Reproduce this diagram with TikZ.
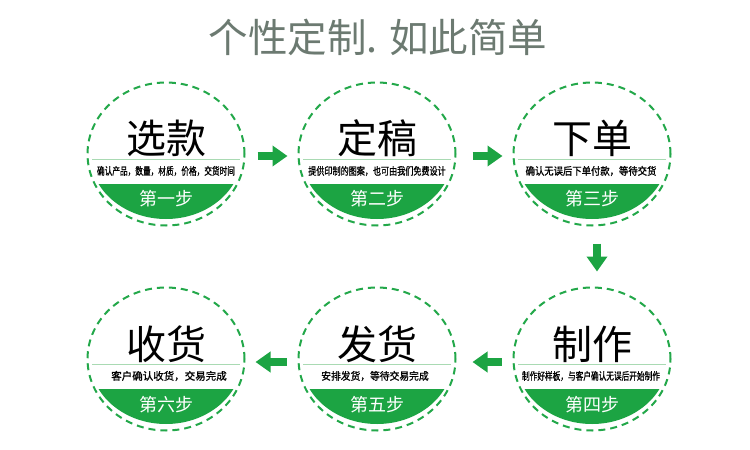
\documentclass[tikz,border=0pt]{standalone}
\usepackage{fontspec}
\usepackage{graphicx}
\newfontfamily\cjk{Noto Sans CJK SC}
\newfontfamily\cjkdark[FakeBold=1.2]{Noto Sans CJK SC}
\usetikzlibrary{shapes.geometric,arrows.meta}

\definecolor{stepgreen}{HTML}{1CA443}
\definecolor{ringgreen}{HTML}{23A84A}
\definecolor{linegreen}{HTML}{A9DAB3}
\definecolor{headgray}{HTML}{6C7A71}

\newcommand{\narrow}[2]{\scalebox{#1}[1]{#2}}

\begin{document}
\begin{tikzpicture}[x=1pt, y=-1pt,
    ring/.style={draw=ringgreen, line width=2pt, dash pattern=on 7pt off 5pt,
        ellipse, minimum width=157pt, minimum height=143pt, inner sep=0pt},
    bigtitle/.style={font=\cjk\fontsize{40}{40}\selectfont, text=black},
    subtitle/.style={font=\cjkdark\fontsize{10.5}{11}\selectfont, text=black},
    steplabel/.style={font=\cjk\fontsize{18}{18}\selectfont, text=white},
    splitline/.style={draw=linegreen, line width=0.8pt},
    flowarrow/.style={line width=8pt, stepgreen, -{Triangle[width=20pt,length=15pt]}}]

\useasboundingbox (0,0) rectangle (750,450);

    % Judul
    \node[font=\cjk\fontsize{39.5}{40}\selectfont, text=headgray] (head) at (378,37) {个性定制. 如此简单};

    % Segmen hijau bawah tiap lingkaran
    \begin{scope}
        \clip (80,184) rectangle (252,240);
        \fill[stepgreen] (166,154) ellipse [x radius=76pt, y radius=65pt];
    \end{scope}
    \begin{scope}
        \clip (291,184) rectangle (463,240);
        \fill[stepgreen] (377,154) ellipse [x radius=76pt, y radius=65pt];
    \end{scope}
    \begin{scope}
        \clip (506,184) rectangle (678,240);
        \fill[stepgreen] (592,154) ellipse [x radius=76pt, y radius=65pt];
    \end{scope}
    \begin{scope}
        \clip (506,389) rectangle (678,445);
        \fill[stepgreen] (592,359) ellipse [x radius=76pt, y radius=65pt];
    \end{scope}
    \begin{scope}
        \clip (291,389) rectangle (463,445);
        \fill[stepgreen] (377,359) ellipse [x radius=76pt, y radius=65pt];
    \end{scope}
    \begin{scope}
        \clip (80,389) rectangle (252,445);
        \fill[stepgreen] (166,359) ellipse [x radius=76pt, y radius=65pt];
    \end{scope}

    % Lingkaran putus-putus
    \node[ring] (s1) at (166,154) {};
    \node[ring] (s2) at (377,154) {};
    \node[ring] (s3) at (592,154) {};
    \node[ring] (s4) at (592,359) {};
    \node[ring] (s5) at (377,359) {};
    \node[ring] (s6) at (166,359) {};

    % Garis pemisah
    \draw[splitline] (92,159) -- (240,159);
    \draw[splitline] (303,159) -- (451,159);
    \draw[splitline] (518,159) -- (666,159);
    \draw[splitline] (518,364) -- (666,364);
    \draw[splitline] (303,364) -- (451,364);
    \draw[splitline] (92,364) -- (240,364);

    % Langkah 1
    \node[bigtitle] (t1) at (166,138) {选款};
    \node[subtitle] (d1) at (166,171) {\narrow{0.73}{确认产品，数量，材质，价格，交货时间}};
    \node[steplabel] (l1) at (166,199) {第一步};

    % Langkah 2
    \node[bigtitle] (t2) at (377,138) {定稿};
    \node[subtitle] (d2) at (377,171) {\narrow{0.77}{提供印制的图案，也可由我们免费设计}};
    \node[steplabel] (l2) at (377,199) {第二步};

    % Langkah 3
    \node[bigtitle] (t3) at (592,138) {下单};
    \node[subtitle] (d3) at (591,171) {\narrow{0.89}{确认无误后下单付款，等待交货}};
    \node[steplabel] (l3) at (592,199) {第三步};

    % Langkah 4
    \node[bigtitle] (t4) at (592,344) {制作};
    \node[subtitle] (d4) at (591,376) {\narrow{0.73}{制作好样板，与客户确认无误后开始制作}};
    \node[steplabel] (l4) at (592,405) {第四步};

    % Langkah 5
    \node[bigtitle] (t5) at (377,344) {发货};
    \node[subtitle] (d5) at (375,376) {\narrow{0.93}{安排发货，等待交易完成}};
    \node[steplabel] (l5) at (377,405) {第五步};

    % Langkah 6
    \node[bigtitle] (t6) at (166,344) {收货};
    \node[subtitle] (d6) at (169,376) {客户确认收货，交易完成};
    \node[steplabel] (l6) at (166,405) {第六步};

    % Panah alur
    \draw[flowarrow, shorten <=12pt, shorten >=10pt] ([yshift=-2pt]s1.east) -- ([yshift=-2pt]s2.west);
    \draw[flowarrow, shorten <=16pt, shorten >=10pt] ([yshift=-2pt]s2.east) -- ([yshift=-2pt]s3.west);
    \draw[flowarrow, shorten <=17pt, shorten >=15pt] ([xshift=5pt]s3.south) -- ([xshift=5pt]s4.north);
    \draw[flowarrow, shorten <=11pt, shorten >=16pt] ([yshift=-3pt]s4.west) -- ([yshift=-3pt]s5.east);
    \draw[flowarrow, shorten <=11pt, shorten >=10pt] ([yshift=-3pt]s5.west) -- ([yshift=-3pt]s6.east);

\end{tikzpicture}
\end{document}
